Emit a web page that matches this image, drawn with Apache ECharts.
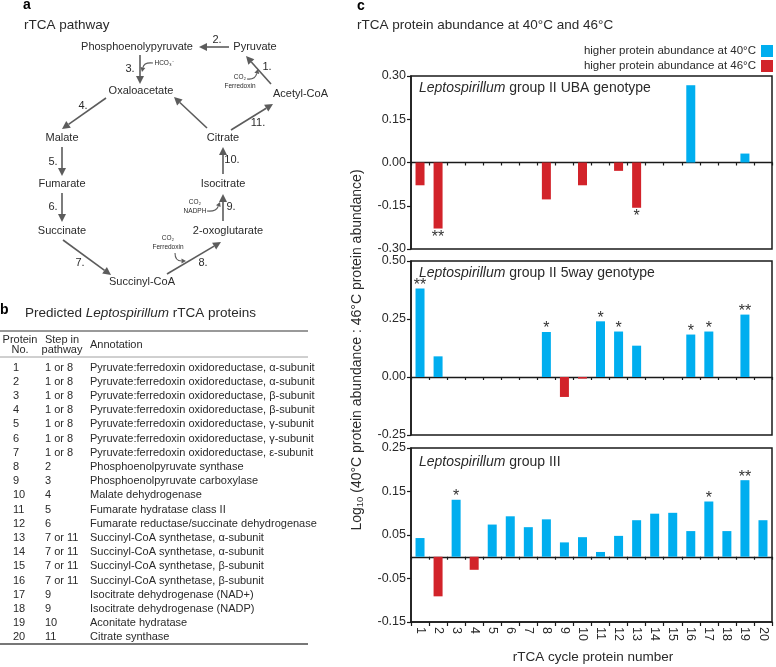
<!DOCTYPE html>
<html><head><meta charset="utf-8">
<script src="https://cdn.jsdelivr.net/npm/echarts@6/dist/echarts.min.js"></script>
<style>html,body{margin:0;padding:0;background:#fff}#c{width:776px;height:667px}</style>
</head><body><div id="c"></div>
<script>
// ---------- data ----------
const proteinNumbers = ['1','2','3','4','5','6','7','8','9','10','11','12','13','14','15','16','17','18','19','20'];
const ubaValues      = [-0.079,-0.229,0,0,0,0,0,-0.128,0,-0.079,0,-0.029,-0.157,0,0,0.268,0,0,0.031,0];
const ubaSig         = ['','**','','','','','','','','','','','*','','','','','','',''];
const fiveWayValues  = [0.381,0.089,0,0,0,0,0,0.194,-0.086,-0.007,0.240,0.196,0.135,0,0,0.183,0.196,0,0.269,0];
const fiveWaySig     = ['**','','','','','','','*','','','*','*','','','','*','*','','**',''];
const groupIIIValues = [0.043,-0.091,0.131,-0.030,0.074,0.093,0.068,0.086,0.033,0.045,0.011,0.048,0.084,0.099,0.101,0.059,0.127,0.059,0.176,0.084];
const groupIIISig    = ['','','*','','','','','','','','','','','','','','*','','**',''];
const ubaAxis      = [-0.30, 0.30, 0.15];
const fiveWayAxis  = [-0.25, 0.50, 0.25];
const groupIIIAxis = [-0.15, 0.25, 0.10];
const panelNames = ['group II UBA genotype','group II 5way genotype','group III'];
const legendNames = ['higher protein abundance at 40°C','higher protein abundance at 46°C'];

const tableSteps = ['1 or 8','1 or 8','1 or 8','1 or 8','1 or 8','1 or 8','1 or 8','2','3','4','5','6','7 or 11','7 or 11','7 or 11','7 or 11','9','9','10','11'];
const tableAnnotations = [
 'Pyruvate:ferredoxin oxidoreductase, α-subunit',
 'Pyruvate:ferredoxin oxidoreductase, α-subunit',
 'Pyruvate:ferredoxin oxidoreductase, β-subunit',
 'Pyruvate:ferredoxin oxidoreductase, β-subunit',
 'Pyruvate:ferredoxin oxidoreductase, γ-subunit',
 'Pyruvate:ferredoxin oxidoreductase, γ-subunit',
 'Pyruvate:ferredoxin oxidoreductase, ε-subunit',
 'Phosphoenolpyruvate synthase',
 'Phosphoenolpyruvate carboxylase',
 'Malate dehydrogenase',
 'Fumarate hydratase class II',
 'Fumarate reductase/succinate dehydrogenase',
 'Succinyl-CoA synthetase, α-subunit',
 'Succinyl-CoA synthetase, α-subunit',
 'Succinyl-CoA synthetase, β-subunit',
 'Succinyl-CoA synthetase, β-subunit',
 'Isocitrate dehydrogenase (NAD+)',
 'Isocitrate dehydrogenase (NADP)',
 'Aconitate hydratase',
 'Citrate synthase'];

// ---------- styles ----------
const FONT = '"Liberation Sans", Arial, Helvetica, sans-serif';
const BLUE = '#00AEEF', RED = '#D2232A';
const TXT = '#2a2a2a', ARW = '#5c5c5c';

const G = [];
function T(text, x, y, o) {
  o = o || {};
  const st = {text: text, fontSize: o.fs || 11, fontFamily: FONT, fill: o.fill || TXT,
    fontWeight: o.fw || 'normal', fontStyle: o.it ? 'italic' : 'normal',
    textAlign: o.al || 'center', align: o.al || 'center',
    textVerticalAlign: 'middle', verticalAlign: 'middle'};
  if (o.rich) st.rich = o.rich;
  G.push({type: 'text', x: x, y: y, rotation: o.rot || 0, silent: true, style: st});
}
function L(x1, y1, x2, y2, w, c) {
  G.push({type: 'line', silent: true, shape: {x1, y1, x2, y2}, style: {stroke: c || ARW, lineWidth: w || 1.5}});
}
function head(x2, y2, dx, dy, hl, hw, c) {
  const len = Math.hypot(dx, dy), ux = dx / len, uy = dy / len;
  const bx = x2 - ux * hl, by = y2 - uy * hl;
  G.push({type: 'polygon', silent: true, shape: {points: [[x2, y2], [bx - uy * hw, by + ux * hw], [bx + uy * hw, by - ux * hw]]}, style: {fill: c || ARW}});
  return [bx, by];
}
function A(x1, y1, x2, y2) {
  const b = head(x2, y2, x2 - x1, y2 - y1, 8, 4);
  L(x1, y1, b[0], b[1], 1.6);
}
function CA(x1, y1, cx, cy, x2, y2) {
  const b = head(x2, y2, x2 - cx, y2 - cy, 4.5, 2.5);
  G.push({type: 'bezierCurve', silent: true, shape: {x1, y1, x2: b[0], y2: b[1], cpx1: cx, cpy1: cy}, style: {stroke: ARW, lineWidth: 1.1, fill: null}});
}
const richIt = fs => ({n: {fontSize: fs, fontFamily: FONT, fill: TXT}, i: {fontSize: fs, fontFamily: FONT, fontStyle: 'italic', fill: TXT}});

// ---------- panel a ----------
T('a', 23, 5, {fs: 14, fw: 'bold', al: 'left', fill: '#000'});
T('rTCA pathway', 24, 25, {fs: 13.5, al: 'left'});
T('Phosphoenolypyruvate', 137, 47);
T('Pyruvate', 255, 47);
T('Oxaloacetate', 141, 91);
T('Malate', 62, 138);
T('Citrate', 223, 138);
T('Acetyl-CoA', 273, 94, {al: 'left'});
T('Fumarate', 62, 184);
T('Isocitrate', 223, 184);
T('Succinate', 62, 231);
T('2-oxoglutarate', 228, 231);
T('Succinyl-CoA', 142, 282);
T('2.', 217, 40); A(229, 47, 199, 47);
T('3.', 130, 69); A(140, 55, 140, 84);
T('HCO\u2083\u207B', 164, 63, {fs: 6.5});
CA(153, 63, 144, 62, 142, 72);
T('4.', 83, 106); A(106, 98, 62, 129);
A(207, 128, 174, 97);
T('1.', 267, 67); A(271, 84, 246, 56);
T('CO\u2082', 240, 77, {fs: 6.5}); T('Ferredoxin', 240, 86, {fs: 6.5});
CA(247, 79, 255, 80, 258, 69);
T('11.', 258, 123); A(231, 130, 273, 104);
T('5.', 53, 162); A(62, 147, 62, 176);
T('10.', 232, 160); A(223, 174, 223, 147);
T('6.', 53, 207); A(62, 193, 62, 222);
T('9.', 231, 207); A(223, 221, 223, 194);
T('CO\u2082', 195, 202, {fs: 6.5}); T('NADPH', 195, 211, {fs: 6.5});
CA(207, 211, 216, 212, 220, 202);
T('7.', 80, 263); A(63, 240, 111, 275);
T('8.', 203, 263); A(167, 274, 221, 242);
T('CO\u2082', 168, 238, {fs: 6.5}); T('Ferredoxin', 168, 247, {fs: 6.5});
CA(175, 253, 175, 261, 186, 261);

// ---------- panel b ----------
T('b', 0, 310, {fs: 14, fw: 'bold', al: 'left', fill: '#000'});
T('{n|Predicted }{i|Leptospirillum}{n| rTCA proteins}', 25, 313, {al: 'left', rich: richIt(13.5)});
L(0, 331, 308, 331, 1.4, '#777');
T('Protein', 20, 340, {fs: 11}); T('No.', 20, 350, {fs: 11});
T('Step in', 62, 340, {fs: 11}); T('pathway', 62, 350, {fs: 11});
T('Annotation', 90, 345, {fs: 11, al: 'left'});
L(0, 357, 308, 357, 0.8, '#888');
proteinNumbers.forEach((p, i) => {
  const y = 367.5 + i * 14.2;
  T(p, 13, y, {fs: 11, al: 'left'});
  T(tableSteps[i], 45, y, {fs: 11, al: 'left'});
  T(tableAnnotations[i], 90, y, {fs: 11, al: 'left'});
});
L(0, 644, 308, 644, 2, '#777');

// ---------- panel c text ----------
T('c', 357, 6, {fs: 14, fw: 'bold', al: 'left', fill: '#000'});
T('rTCA protein abundance at 40°C and 46°C', 357, 25, {fs: 13.5, al: 'left'});
const grids = [{top: 76, height: 173}, {top: 261, height: 174}, {top: 448, height: 174}];
const titleY = [88, 273, 462];
panelNames.forEach((n, k) => {
  T('{i|Leptospirillum}{n| ' + n + '}', 419, titleY[k], {al: 'left', rich: richIt(14)});
});
T('{n|Log}{s|10}{n| (40°C protein abundance : 46°C protein abundance)}', 357, 350, {rot: Math.PI / 2, rich: {
  n: {fontSize: 14, fontFamily: FONT, fill: TXT}, s: {fontSize: 9.5, fontFamily: FONT, fill: TXT, padding: [6, 0, 0, 0]}}});
T('rTCA cycle protein number', 593, 657, {fs: 13.5});

// ---------- chart ----------
const axesDef = [ubaAxis, fiveWayAxis, groupIIIAxis];
const valuesDef = [ubaValues, fiveWayValues, groupIIIValues];
const sigDef = [ubaSig, fiveWaySig, groupIIISig];
const fmt = v => (Math.abs(v) < 1e-9 ? 0 : v).toFixed(2);

const gridOpt = grids.map(g => ({left: 411, right: 4, top: g.top, height: g.height, show: true, borderColor: '#1a1a1a', borderWidth: 1.5, backgroundColor: 'transparent'}));
const yAxes = axesDef.map((a, k) => ({type: 'value', gridIndex: k, min: a[0], max: a[1], interval: a[2],
  axisLine: {show: true, lineStyle: {color: '#1a1a1a', width: 1.5}},
  axisTick: {show: true, length: 4, lineStyle: {color: '#1a1a1a', width: 1.2}},
  axisLabel: {formatter: fmt, fontSize: 12.5, fontFamily: FONT, color: TXT, margin: 5},
  splitLine: {show: false}}));
const zeroAxis = k => ({type: 'category', gridIndex: k, data: proteinNumbers, position: 'bottom',
  axisLine: {show: true, onZero: true, lineStyle: {color: '#1a1a1a', width: 1.3}},
  axisTick: {show: true, length: 3, lineStyle: {color: '#1a1a1a', width: 1.2}},
  axisLabel: {show: false}, splitLine: {show: false}});
const xAxes = [zeroAxis(0), zeroAxis(1),
  {type: 'category', gridIndex: 2, data: proteinNumbers, position: 'bottom',
   axisLine: {show: true, onZero: false, lineStyle: {color: '#1a1a1a', width: 1.5}},
   axisTick: {show: true, length: 4, lineStyle: {color: '#1a1a1a', width: 1.2}},
   axisLabel: {show: true, rotate: -90, fontSize: 12.5, fontFamily: FONT, color: TXT, margin: 5, interval: 0},
   splitLine: {show: false}},
  zeroAxis(2)];
const series = [];
valuesDef.forEach((vals, k) => {
  const sig = sigDef[k];
  const mk = (cond, pos, dist) => vals.map((v, i) => cond(v) ? {value: v, label: {show: !!sig[i], formatter: sig[i] || '', position: pos, distance: dist}} : '-');
  const common = {type: 'bar', xAxisIndex: k, yAxisIndex: k, barWidth: 9, barGap: '-100%', silent: true,
    label: {fontSize: 16, fontFamily: FONT, color: '#333'}};
  series.push(Object.assign({}, common, {name: legendNames[0], data: mk(v => v > 0, 'top', -5), itemStyle: {color: BLUE}}));
  series.push(Object.assign({}, common, {name: legendNames[1], data: mk(v => v < 0, 'bottom', 1), itemStyle: {color: RED}}));
});

const chart = echarts.init(document.getElementById('c'), null, {renderer: 'canvas'});
chart.setOption({
  animation: false,
  backgroundColor: '#fff',
  legend: {data: legendNames, orient: 'vertical', right: 3, top: 45, align: 'right', icon: 'rect',
    itemWidth: 12, itemHeight: 12, itemGap: 3, padding: 0, selectedMode: false,
    textStyle: {fontSize: 11.5, fontFamily: FONT, color: TXT}},
  grid: gridOpt,
  xAxis: xAxes,
  yAxis: yAxes,
  series: series,
  graphic: {elements: G}
});
</script></body></html>
